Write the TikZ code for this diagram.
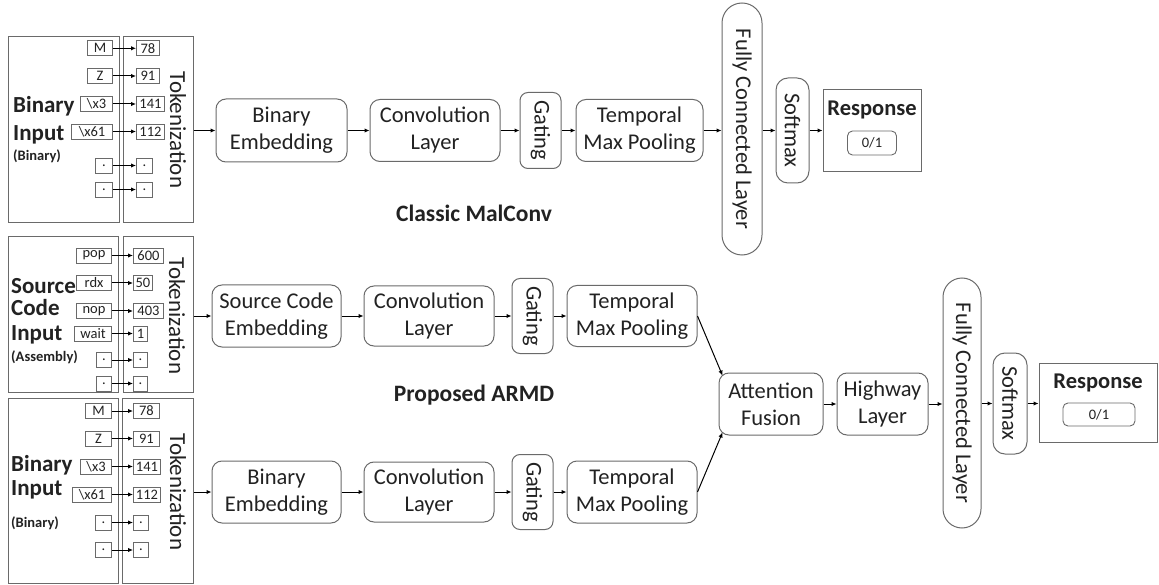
\documentclass[tikz,border=0pt]{standalone}
\usepackage{fontspec}
\setmainfont{Carlito}
\usetikzlibrary{arrows.meta}
\definecolor{boxgray}{HTML}{6A6A6A}
\definecolor{txt}{HTML}{222222}
\tikzset{
  blk/.style={draw=boxgray, line width=1pt, rounded corners=10pt, align=center,
    inner sep=0pt, text=txt, font=\fontsize{22.5}{27}\selectfont},
  vblk/.style={blk, rotate=-90},
  panel/.style={draw=boxgray, line width=1pt, inner sep=0pt},
  sb/.style={draw=boxgray, line width=0.9pt, inner sep=0pt, minimum height=15pt,
    text=txt, font=\fontsize{14.5}{15}\selectfont},
  sbl/.style={sb, anchor=east},
  sbr/.style={sb, anchor=west},
  big/.style={anchor=base west, inner sep=0pt, text=txt, font=\fontsize{23}{26}\bfseries\selectfont},
  small/.style={anchor=base west, inner sep=0pt, text=txt, font=\fontsize{14.5}{16}\bfseries\selectfont},
  tok/.style={rotate=-90, inner sep=0pt, text=txt, font=\fontsize{23}{26}\selectfont},
  ttl/.style={inner sep=0pt, text=txt, font=\fontsize{23.5}{26}\bfseries\selectfont},
  arr/.style={-{Latex[length=5pt,width=4.5pt]}, line width=1pt, draw=black},
}
\begin{document}
\begin{tikzpicture}[x=1pt,y=-1pt]
\useasboundingbox (0,0) rectangle (1159,585);

% ================= TOP: Classic MalConv =================
\node[panel, minimum width=111pt, minimum height=186pt] (in1) at (63.5,130) {};
\node[panel, minimum width=70pt, minimum height=186pt] (tk1) at (158,130) {};
\node[tok] (tt1) at (178,130) {Tokenization};
\node[big] (l1a) at (13,112.5) {Binary};
\node[big] (l1b) at (13,140.5) {Input};
\node[small] (l1c) at (13,160.5) {(Binary)};

\node[sbl, minimum width=25pt] (a1) at (113,48.3) {M};
\node[sbl, minimum width=25pt] (a2) at (113,76) {Z};
\node[sbl, minimum width=32pt] (a3) at (113,104) {\textbackslash x3};
\node[sbl, minimum width=41pt] (a4) at (113,131.5) {\textbackslash x61};
\node[sbl, minimum width=17pt] (a5) at (113,165.5) {.};
\node[sbl, minimum width=17pt] (a6) at (113,189.5) {.};
\node[sbr, minimum width=23pt] (b1) at (136,48.3) {78};
\node[sbr, minimum width=23pt] (b2) at (136,76) {91};
\node[sbr, minimum width=28pt] (b3) at (136,104) {141};
\node[sbr, minimum width=28pt] (b4) at (136,131.5) {112};
\node[sbr, minimum width=16pt] (b5) at (136,165.5) {.};
\node[sbr, minimum width=16pt] (b6) at (136,189.5) {.};
\foreach \i in {1,...,6} {\draw[arr] (a\i.east) -- (b\i.west);}

\node[blk, minimum width=131pt, minimum height=63pt] (be1) at (281.5,130.5) {Binary\\Embedding};
\node[blk, minimum width=130pt, minimum height=62pt] (cv1) at (435,130.5) {Convolution\\Layer};
\node[vblk, rounded corners=8pt, minimum width=76pt, minimum height=41pt] (gt1) at (540.5,130.5) {Gating};
\node[blk, minimum width=127pt, minimum height=62pt] (tp1) at (639.5,130.5) {Temporal\\Max Pooling};
\node[vblk, rounded corners=20pt, minimum width=252pt, minimum height=40pt] (fc1) at (742,129) {Fully Connected Layer};
\node[vblk, rounded corners=12pt, minimum width=105pt, minimum height=33pt] (sm1) at (792.5,130.5) {Softmax};
\node[panel, minimum width=98pt, minimum height=82pt] (rs1) at (872,131) {};
\node[ttl, font=\fontsize{22.5}{24}\bfseries\selectfont] (rt1) at (872,110) {Response};
\node[sb, rounded corners=5pt, minimum width=49pt, minimum height=24pt, font=\fontsize{14.5}{16}\selectfont] (o1) at (872,143) {0/1};

% rotated nodes: .south = left side, .north = right side
\draw[arr] (tk1.east |- be1.west) -- (be1.west);
\draw[arr] (be1.east) -- (cv1.west);
\draw[arr] (cv1.east) -- (gt1.south);
\draw[arr] (gt1.north) -- (tp1.west);
\draw[arr] (tp1.east) -- (tp1.east -| fc1.south);
\draw[arr] (fc1.north |- sm1.center) -- (sm1.south);
\draw[arr] (sm1.north) -- (sm1.north -| rs1.west);

\node[ttl] (t1) at (474,213) {Classic MalConv};

% ================= MIDDLE: source code =================
\node[panel, minimum width=110pt, minimum height=155pt] (in2) at (63,314.5) {};
\node[panel, minimum width=70pt, minimum height=155pt] (tk2) at (158,314.5) {};
\node[tok] (tt2) at (177,316) {Tokenization};
\node[big] (l2a) at (11,294) {Source};
\node[big] (l2b) at (11,316) {Code};
\node[big] (l2c) at (11,341) {Input};
\node[small] (l2d) at (11,361.5) {(Assembly)};

\node[sbl, minimum width=35pt] (c1) at (112,255.5) {pop};
\node[sbl, minimum width=35pt] (c2) at (112,283) {rdx};
\node[sbl, minimum width=35pt] (c3) at (112,311) {nop};
\node[sbl, minimum width=37pt] (c4) at (112,333.5) {wait};
\node[sbl, minimum width=15pt] (c5) at (112,360) {.};
\node[sbl, minimum width=15pt] (c6) at (112,383.5) {.};
\node[sbr, minimum width=30pt] (d1) at (133,255.5) {600};
\node[sbr, minimum width=19pt] (d2) at (133,283) {50};
\node[sbr, minimum width=30pt] (d3) at (133,311) {403};
\node[sbr, minimum width=14pt] (d4) at (133,333.5) {1};
\node[sbr, minimum width=14pt] (d5) at (133,360) {.};
\node[sbr, minimum width=14pt] (d6) at (133,383.5) {.};
\foreach \i in {1,...,6} {\draw[arr] (c\i.east) -- (d\i.west);}

\node[blk, minimum width=129pt, minimum height=62pt] (se2) at (276.5,316) {Source Code\\Embedding};
\node[blk, minimum width=130pt, minimum height=60pt] (cv2) at (429,316) {Convolution\\Layer};
\node[vblk, rounded corners=8pt, minimum width=75pt, minimum height=41pt] (gt2) at (532.5,316) {Gating};
\node[blk, minimum width=130pt, minimum height=61pt] (tp2) at (632,316) {Temporal\\Max Pooling};

\draw[arr] (tk2.east |- se2.west) -- (se2.west);
\draw[arr] (se2.east) -- (cv2.west);
\draw[arr] (cv2.east) -- (gt2.south);
\draw[arr] (gt2.north) -- (tp2.west);

\node[ttl] (t2) at (474,395) {Proposed ARMD};

% ================= BOTTOM: binary =================
\node[panel, minimum width=110pt, minimum height=185pt] (in3) at (63,490.5) {};
\node[panel, minimum width=71pt, minimum height=185pt] (tk3) at (157.5,490.5) {};
\node[tok] (tt3) at (178,492) {Tokenization};
\node[big] (l3a) at (11,471) {Binary};
\node[big] (l3b) at (11,495.5) {Input};
\node[small] (l3c) at (11,527) {(Binary)};

\node[sbl, minimum width=26pt] (e1) at (112,411) {M};
\node[sbl, minimum width=26pt] (e2) at (112,438.5) {Z};
\node[sbl, minimum width=31pt] (e3) at (112,466.5) {\textbackslash x3};
\node[sbl, minimum width=39pt] (e4) at (112,494.5) {\textbackslash x61};
\node[sbl, minimum width=16pt] (e5) at (112,522.5) {.};
\node[sbl, minimum width=16pt] (e6) at (112,550) {.};
\node[sbr, minimum width=26pt] (f1) at (133,411) {78};
\node[sbr, minimum width=26pt] (f2) at (133,438.5) {91};
\node[sbr, minimum width=27pt] (f3) at (133,466.5) {141};
\node[sbr, minimum width=27pt] (f4) at (133,494.5) {112};
\node[sbr, minimum width=15pt] (f5) at (133,522.5) {.};
\node[sbr, minimum width=15pt] (f6) at (133,550) {.};
\foreach \i in {1,...,6} {\draw[arr] (e\i.east) -- (f\i.west);}

\node[blk, minimum width=129pt, minimum height=62pt] (be3) at (276.5,492) {Binary\\Embedding};
\node[blk, minimum width=130pt, minimum height=60pt] (cv3) at (429,492) {Convolution\\Layer};
\node[vblk, rounded corners=8pt, minimum width=75pt, minimum height=41pt] (gt3) at (532.5,492) {Gating};
\node[blk, minimum width=130pt, minimum height=62pt] (tp3) at (632,492) {Temporal\\Max Pooling};

\draw[arr] (tk3.east |- be3.west) -- (be3.west);
\draw[arr] (be3.east) -- (cv3.west);
\draw[arr] (cv3.east) -- (gt3.south);
\draw[arr] (gt3.north) -- (tp3.west);

% ================= FUSION =================
\node[blk, minimum width=104pt, minimum height=62pt] (at) at (771,404) {Attention\\Fusion};
\node[blk, minimum width=91pt, minimum height=62pt] (hw) at (882.5,404) {Highway\\Layer};
\node[vblk, rounded corners=19pt, minimum width=250pt, minimum height=38pt] (fc2) at (962,403) {Fully Connected Layer};
\node[vblk, rounded corners=12pt, minimum width=101pt, minimum height=34pt] (sm2) at (1010,403.5) {Softmax};
\node[panel, minimum width=118pt, minimum height=79pt] (rs2) at (1098,402.5) {};
\node[ttl, font=\fontsize{22.5}{24}\bfseries\selectfont] (rt2) at (1098,383) {Response};
\node[sb, rounded corners=5pt, minimum width=72pt, minimum height=23pt, font=\fontsize{14.5}{16}\selectfont] (o2) at (1099,414.5) {0/1};

\draw[arr] (tp2.east) -- ([xshift=4pt,yshift=-3pt]at.north west);
\draw[arr] (tp3.east) -- ([xshift=4pt,yshift=3pt]at.south west);
\draw[arr] (at.east) -- (hw.west);
\draw[arr] (hw.east) -- (hw.east -| fc2.south);
\draw[arr] (fc2.north |- sm2.center) -- (sm2.south);
\draw[arr] (sm2.north) -- (sm2.north -| rs2.west);
\end{tikzpicture}
\end{document}
